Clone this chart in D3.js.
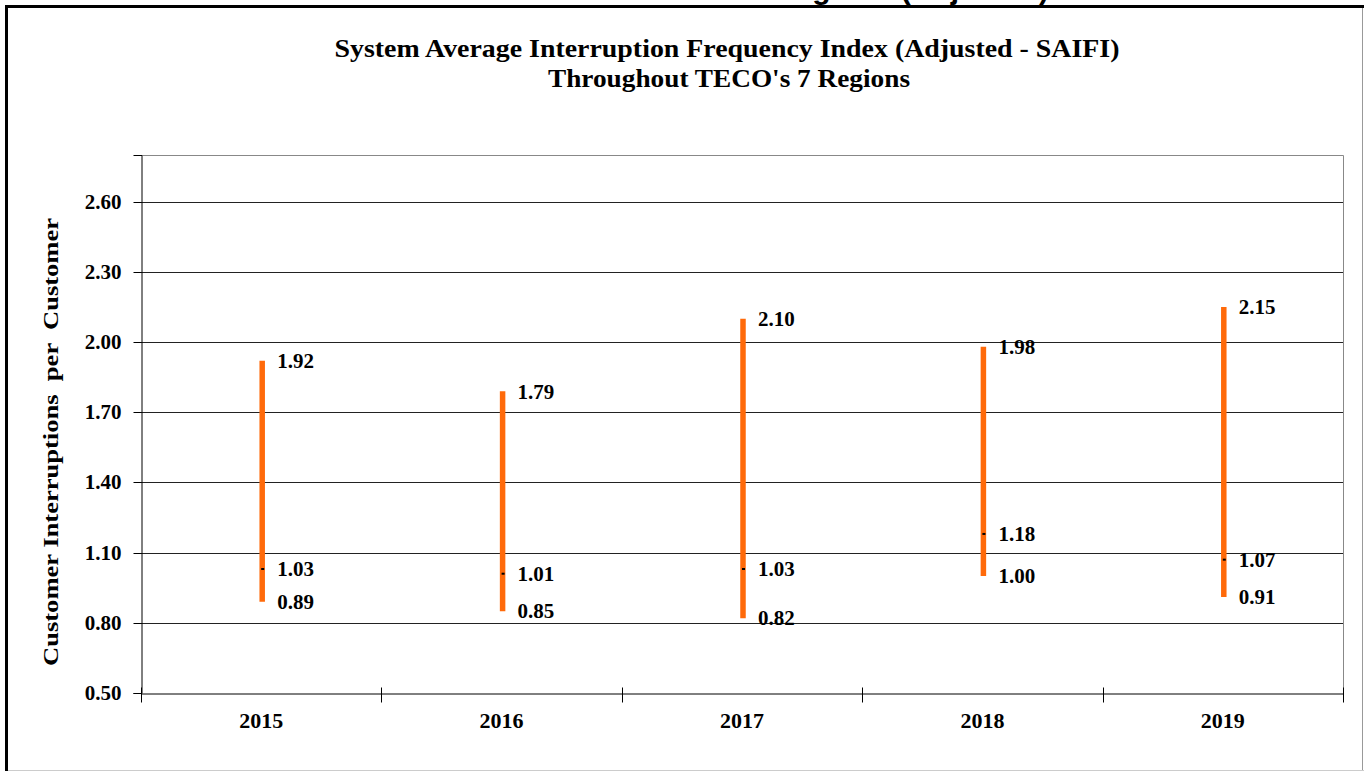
<!DOCTYPE html>
<html>
<head>
<meta charset="utf-8">
<script src="https://cdn.jsdelivr.net/npm/d3@7"></script>
<style>
  body { margin: 0; background: #fff; }
  text { font-family: "Liberation Serif", "Times New Roman", serif; font-weight: bold; fill: #000; }
</style>
</head>
<body>
<div id="chart"></div>
<script>
// chart values
const years = ["2015", "2016", "2017", "2018", "2019"];
const highValues = [1.92, 1.79, 2.10, 1.98, 2.15];
const lowValues = [0.89, 0.85, 0.82, 1.00, 0.91];
const closeValues = [1.03, 1.01, 1.03, 1.18, 1.07];
const yTickValues = [0.50, 0.80, 1.10, 1.40, 1.70, 2.00, 2.30, 2.60];

const titleLines = [
    "System Average Interruption Frequency Index (Adjusted - SAIFI)",
    "Throughout TECO's 7 Regions"
];
const yTitle = "Customer Interruptions  per  Customer";

const width = 1364;
const height = 771;
const margin = {top: 155, right: 21, bottom: 78, left: 141};

const svg = d3.select("#chart")
    .append("svg")
    .attr("width", width)
    .attr("height", height);

// page heading cut off at the top of the picture
svg.append("text")
    .attr("x", 1049)
    .attr("y", -1)
    .attr("text-anchor", "end")
    .style("font-family", "'Liberation Sans', Arial, sans-serif")
    .style("font-size", "30px")
    .text("Regions (Adjusted)");

// outer frame
svg.append("line").attr("x1", 6.5).attr("x2", 6.5).attr("y1", 5).attr("y2", height)
    .attr("stroke", "#000").attr("stroke-width", 3);
svg.append("line").attr("x1", 5).attr("x2", width).attr("y1", 6.5).attr("y2", 6.5)
    .attr("stroke", "#000").attr("stroke-width", 3);
svg.append("line").attr("x1", 1362.5).attr("x2", 1362.5).attr("y1", 8).attr("y2", height)
    .attr("stroke", "#999").attr("stroke-width", 1);
svg.append("line").attr("x1", 8).attr("x2", width).attr("y1", 770.5).attr("y2", 770.5)
    .attr("stroke", "#ccc").attr("stroke-width", 1);

// title
svg.append("text")
    .attr("x", 727).attr("y", 57)
    .attr("text-anchor", "middle")
    .attr("textLength", 785)
    .attr("lengthAdjust", "spacingAndGlyphs")
    .style("font-size", "26px")
    .text(titleLines[0]);
svg.append("text")
    .attr("x", 729).attr("y", 87)
    .attr("text-anchor", "middle")
    .attr("textLength", 362)
    .attr("lengthAdjust", "spacingAndGlyphs")
    .style("font-size", "26px")
    .text(titleLines[1]);

const x = d3.scaleBand()
    .domain(years)
    .range([margin.left, width - margin.right]);

const y = d3.scaleLinear()
    .domain([0.5, 2.8])
    .range([height - margin.bottom, margin.top]);

// gridlines
svg.append("g")
    .selectAll("line")
    .data(yTickValues.slice(1))
    .join("line")
    .attr("x1", margin.left)
    .attr("x2", width - margin.right)
    .attr("y1", d => Math.round(y(d)) + 0.5)
    .attr("y2", d => Math.round(y(d)) + 0.5)
    .attr("stroke", "#222")
    .attr("stroke-width", 1);

// plot border (top and right)
svg.append("path")
    .attr("d", `M${margin.left},${margin.top + 0.5}H${width - margin.right + 0.5}V${height - margin.bottom}`)
    .attr("fill", "none")
    .attr("stroke", "#888")
    .attr("stroke-width", 1);

// y axis
const yAxis = svg.append("g")
    .attr("transform", `translate(${margin.left + 0.5},0)`)
    .call(d3.axisLeft(y).tickValues(yTickValues).tickFormat(d3.format(".2f"))
        .tickSize(8).tickPadding(12));
yAxis.select(".domain").attr("stroke", "#000");
yAxis.selectAll(".tick line").attr("stroke", "#000");
yAxis.selectAll("text").style("font-size", "21px")
    .style("font-family", "'Liberation Serif', 'Times New Roman', serif");
yAxis.selectAll(".tick").attr("transform", d => `translate(0,${Math.round(y(d)) + 0.5})`);

// x axis: labels at category centres, ticks on category boundaries
const xAxis = svg.append("g")
    .attr("transform", `translate(0,${Math.round(y(0.5)) + 0.5})`)
    .call(d3.axisBottom(x).tickSize(0).tickPadding(19));
xAxis.select(".domain").attr("stroke", "#000");
xAxis.selectAll("text").style("font-size", "22px")
    .style("font-family", "'Liberation Serif', 'Times New Roman', serif");

const bounds = years.map(d => x(d)).concat([x(years[years.length - 1]) + x.bandwidth()]);
xAxis.append("g")
    .selectAll("line")
    .data(bounds)
    .join("line")
    .attr("x1", d => Math.round(d) + 0.5)
    .attr("x2", d => Math.round(d) + 0.5)
    .attr("y1", -6)
    .attr("y2", 9)
    .attr("stroke", "#000");

// high-low bars
const rows = years.map((yr, i) => ({
    year: yr, high: highValues[i], low: lowValues[i], close: closeValues[i]
}));
const cx = d => x(d.year) + x.bandwidth() / 2 + 1;

svg.append("g")
    .selectAll("line")
    .data(rows)
    .join("line")
    .attr("x1", cx)
    .attr("x2", cx)
    .attr("y1", d => y(d.high))
    .attr("y2", d => y(d.low))
    .attr("stroke", "#ff6a0a")
    .attr("stroke-width", 5.5);

// close marks
svg.append("g")
    .selectAll("line")
    .data(rows)
    .join("line")
    .attr("x1", d => cx(d) - 1)
    .attr("x2", d => cx(d) + 2)
    .attr("y1", d => y(d.close))
    .attr("y2", d => y(d.close))
    .attr("stroke", "#000")
    .attr("stroke-width", 2);

// value labels
const labels = rows.flatMap(d => [
    {x: cx(d), v: d.high},
    {x: cx(d), v: d.close},
    {x: cx(d), v: d.low}
]);
svg.append("g")
    .selectAll("text")
    .data(labels)
    .join("text")
    .attr("x", d => d.x + 15)
    .attr("y", d => y(d.v))
    .attr("dy", "0.35em")
    .style("font-size", "21px")
    .text(d => d3.format(".2f")(d.v));

// y axis title
svg.append("text")
    .attr("transform", `translate(58,442) rotate(-90)`)
    .attr("text-anchor", "middle")
    .attr("textLength", 448)
    .attr("lengthAdjust", "spacingAndGlyphs")
    .style("font-size", "20px")
    .style("white-space", "pre")
    .text(yTitle);
</script>
</body>
</html>
